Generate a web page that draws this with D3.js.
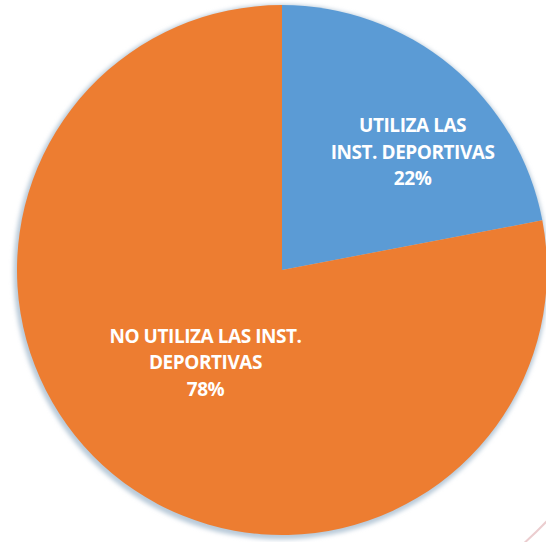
<!DOCTYPE html>
<html>
<head>
<meta charset="utf-8">
<script src="https://cdn.jsdelivr.net/npm/d3@7/dist/d3.min.js"></script>
<style>
  html, body { margin: 0; padding: 0; background: #ffffff; }
  svg { display: block; }
</style>
</head>
<body>
<svg id="chart" width="546" height="542"></svg>
<script>
// Survey answers: use of the sports facilities
const categories = ["UTILIZA LAS INST. DEPORTIVAS", "NO UTILIZA LAS INST. DEPORTIVAS"];
const values = [22, 78];
const labelLines = [
  ["UTILIZA LAS", "INST. DEPORTIVAS", "22%"],
  ["NO UTILIZA LAS INST.", "DEPORTIVAS", "78%"]
];
const colors = ["#5b9bd5", "#ed7d31"];

const W = 546, H = 542;
const cx = 282, cy = 270, R = 265;

const svg = d3.select("#chart");

// soft edge shadow around the disc
const defs = svg.append("defs");
const f = defs.append("filter").attr("id", "soft")
  .attr("x", "-10%").attr("y", "-10%").attr("width", "120%").attr("height", "120%");
f.append("feGaussianBlur").attr("stdDeviation", 2.2);

// faint decoration arc in the lower right corner
svg.append("path")
  .attr("d", d3.arc()({innerRadius: 364, outerRadius: 366, startAngle: 2.31, endAngle: 2.45}))
  .attr("transform", `translate(${cx},${cy})`)
  .attr("fill", "#e6c0c3")
  .attr("opacity", 0.8);

const g = svg.append("g").attr("transform", `translate(${cx},${cy})`);

g.append("circle")
  .attr("cx", -1).attr("cy", 2)
  .attr("r", R + 2.5)
  .attr("fill", "#b9cad9")
  .attr("filter", "url(#soft)");

const data = categories.map((c, i) => ({ name: c, value: values[i], lines: labelLines[i], color: colors[i] }));

const pie = d3.pie().sort(null).value(d => d.value);
const arcs = pie(data);
const arc = d3.arc().innerRadius(0).outerRadius(R);

g.selectAll("path.slice")
  .data(arcs)
  .join("path")
  .attr("class", "slice")
  .attr("d", arc)
  .attr("fill", d => d.data.color);

// label anchors: radius and angular shift per slice
const labelRadius = [176, 120];
const labelShift = [0.145, 0];
const lineH = 26.5;

g.selectAll("text.lbl")
  .data(arcs)
  .join("text")
  .attr("class", "lbl")
  .attr("text-anchor", "middle")
  .attr("font-family", "'Open Sans', Lato, sans-serif")
  .attr("font-weight", 700)
  .attr("font-size", 19)
  .attr("letter-spacing", -0.45)
  .attr("fill", "#ffffff")
  .each(function (d, i) {
    const a = (d.startAngle + d.endAngle) / 2 + labelShift[i];
    const x = Math.sin(a) * labelRadius[i];
    const y = -Math.cos(a) * labelRadius[i];
    const n = d.data.lines.length;
    d3.select(this).selectAll("tspan")
      .data(d.data.lines)
      .join("tspan")
      .attr("x", x)
      .attr("y", (t, k) => y + (k - (n - 1) / 2) * lineH)
      .attr("dy", "0.36em")
      .text(t => t);
  });
</script>
</body>
</html>
